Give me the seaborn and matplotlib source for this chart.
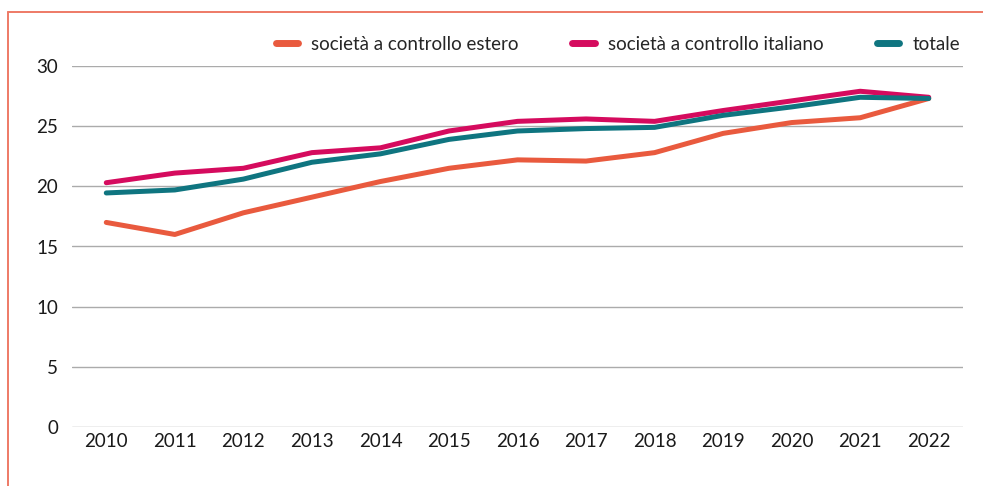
import matplotlib
matplotlib.use("Agg")
import matplotlib.pyplot as plt
from matplotlib.lines import Line2D
import seaborn as sns
import pandas as pd

years = list(range(2010, 2023))
estero = [17.0, 16.0, 17.8, 19.1, 20.4, 21.5, 22.2, 22.1, 22.8, 24.4, 25.3, 25.7, 27.3]
italiano = [20.3, 21.1, 21.5, 22.8, 23.2, 24.6, 25.4, 25.6, 25.4, 26.3, 27.1, 27.9, 27.4]
totale = [19.45, 19.7, 20.6, 22.0, 22.7, 23.9, 24.6, 24.8, 24.9, 25.9, 26.6, 27.4, 27.3]

labels = ["società a controllo estero", "società a controllo italiano", "totale"]
colors = ["#E95A3E", "#D50B5E", "#0F7580"]

df = pd.DataFrame({"anno": years, labels[0]: estero, labels[1]: italiano, labels[2]: totale})
long = df.melt(id_vars="anno", var_name="serie", value_name="valore")

sns.set_theme(style="white")
plt.rcParams["font.family"] = ["Lato", "DejaVu Sans"]

fig = plt.figure(figsize=(9.83, 4.86), dpi=100)
ax = fig.add_axes([72 / 983, (486 - 427) / 486, (963 - 72) / 983, (427 - 66) / 486])

sns.lineplot(data=long, x="anno", y="valore", hue="serie", palette=colors,
             linewidth=3.6, ax=ax, legend=False, solid_capstyle="round")

ax.set_xlim(2009.5, 2022.5)
ax.set_ylim(0, 30)
ax.set_yticks(range(0, 31, 5))
ax.set_xticks(years)
ax.set_xticklabels([str(y) for y in years])
ax.yaxis.grid(True, color="#ABABAB", linewidth=1)
ax.set_axisbelow(True)
for s in ax.spines.values():
    s.set_visible(False)
ax.set_xlabel("")
ax.set_ylabel("")
ax.tick_params(axis="both", labelsize=13.5, colors="#1a1a1a", length=0)
ax.tick_params(axis="y", pad=10)
ax.tick_params(axis="x", pad=4)

handles = [Line2D([0], [0], color=c, linewidth=5, solid_capstyle="round") for c in colors]
fig.legend(handles, labels, loc="center right", bbox_to_anchor=(960 / 983, 1 - 44 / 486),
           ncol=3, frameon=False, fontsize=13.5, handlelength=1.2, columnspacing=2.85,
           handletextpad=0.7, borderaxespad=0, borderpad=0)

# frame lines at top and left
fig.add_artist(Line2D([8 / 983, 1], [1 - 12 / 486, 1 - 12 / 486], color="#EE7A66", linewidth=1.4))
fig.add_artist(Line2D([8 / 983, 8 / 983], [0, 1 - 12 / 486], color="#EE7A66", linewidth=1.4))

fig.savefig("out.png", dpi=100)
